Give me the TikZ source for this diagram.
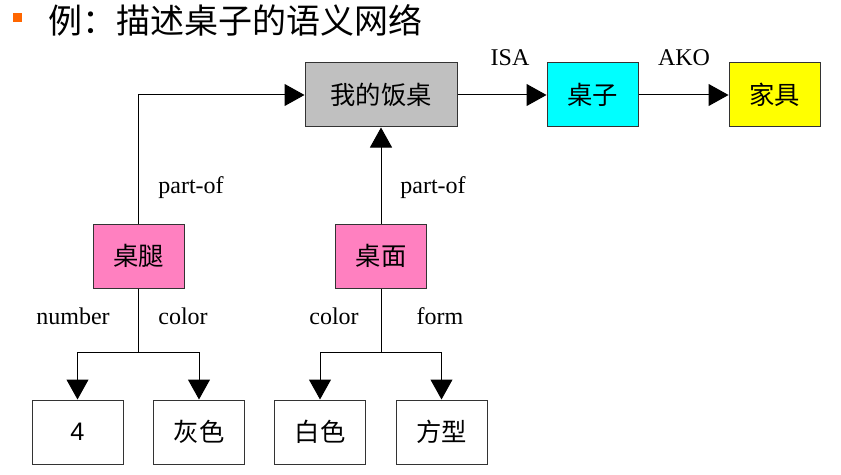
\documentclass[tikz,border=0pt]{standalone}
\usepackage{fontspec}
\setmainfont{Liberation Serif}
\setsansfont{Liberation Sans}
\newfontfamily\cjk{Noto Sans CJK SC}
\usepackage{tikz}
\usetikzlibrary{arrows.meta}

\definecolor{tablegray}{RGB}{192,192,192}
\definecolor{tablepink}{RGB}{255,128,192}
\definecolor{tablecyan}{RGB}{0,255,255}
\definecolor{tableyellow}{RGB}{255,255,0}
\definecolor{bulletorange}{RGB}{255,102,0}

\tikzset{
  box/.style={draw=black!80, line width=0.75pt, inner sep=0pt, minimum width=68.25pt, minimum height=48pt, font=\cjk\fontsize{19}{21}\selectfont},
  rel/.style={font=\fontsize{18}{20}\selectfont, inner sep=0.75pt},
  arr/.style={line width=0.75pt, -{Triangle[length=15pt, width=16.5pt]}},
  lin/.style={line width=0.75pt}
}

\begin{document}
\begin{tikzpicture}[x=0.75pt,y=0.75pt,yscale=-1,xscale=1]
\useasboundingbox (0,0) rectangle (841,474); %set diagram left start at 0, and has height of 474

%Shape: Square [id:bullet]
\fill [bulletorange] (13,13) rectangle (22,22);
% Text Node
\node (title) [anchor=west, inner sep=0pt, font=\cjk\fontsize{25.5}{28}\selectfont] at (48,20) {例：描述桌子的语义网络};

%Shape: Rectangle [id:mine]
\node (mine) [box, fill=tablegray, minimum width=114pt] at (381,95) {我的饭桌};
%Shape: Rectangle [id:table]
\node (table) [box, fill=tablecyan] at (592.5,95) {桌子};
%Shape: Rectangle [id:furniture]
\node (furniture) [box, fill=tableyellow] at (774.5,95) {家具};
%Shape: Rectangle [id:leg]
\node (leg) [box, fill=tablepink] at (138.5,256) {桌腿};
%Shape: Rectangle [id:top]
\node (top) [box, fill=tablepink] at (381,256) {桌面};
%Shape: Rectangle [id:four]
\node (four) [box, font=\sffamily\fontsize{19}{21}\selectfont] at (77.5,432) {4};
%Shape: Rectangle [id:gray]
\node (gray) [box] at (199,432) {灰色};
%Shape: Rectangle [id:white]
\node (white) [box] at (320,432) {白色};
%Shape: Rectangle [id:square]
\node (square) [box] at (441.5,432) {方型};

%Straight Lines [id:isa]
\draw [arr] (mine) -- (table);
%Straight Lines [id:ako]
\draw [arr] (table) -- (furniture);
%Straight Lines [id:legpart]
\draw [arr] (leg.north) |- (mine.west);
%Straight Lines [id:toppart]
\draw [arr] (top) -- (mine);

%Straight Lines [id:legtree]
\coordinate (legfork) at (138.5,352);
\draw [lin] (leg) -- (legfork);
\draw [arr] (legfork) -| (four);
\draw [arr] (legfork) -| (gray);
%Straight Lines [id:toptree]
\coordinate (topfork) at (381,352);
\draw [lin] (top) -- (topfork);
\draw [arr] (topfork) -| (white);
\draw [arr] (topfork) -| (square);

% Text Node
\node (isa) [rel] at (510,58) {ISA};
% Text Node
\node (ako) [rel] at (684,58) {AKO};
% Text Node
\node (legof) [rel] at (191,188) {part-of};
% Text Node
\node (topof) [rel] at (433,188) {part-of};
% Text Node
\node (number) [rel] at (73,316) {number};
% Text Node
\node (legcolor) [rel] at (183,316) {color};
% Text Node
\node (topcolor) [rel] at (334,316) {color};
% Text Node
\node (form) [rel] at (440,316) {form};
\end{tikzpicture}
\end{document}
